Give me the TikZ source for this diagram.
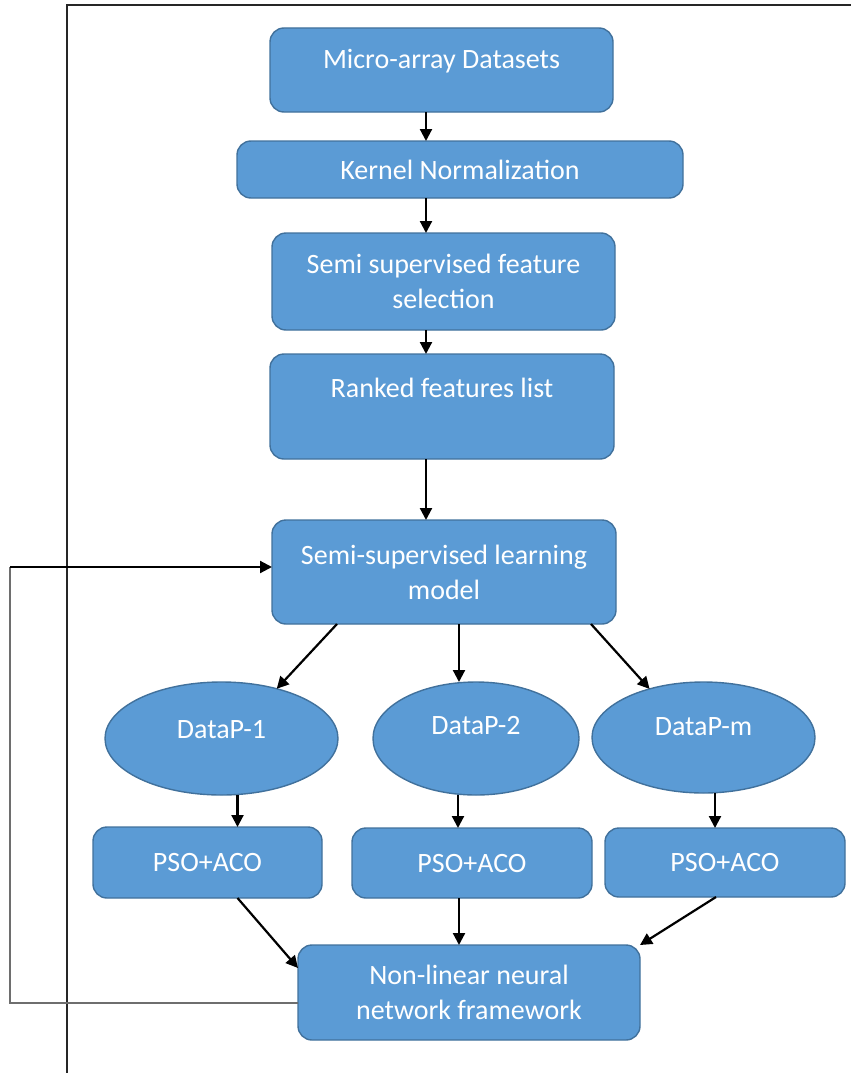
\documentclass[tikz,border=0pt]{standalone}
\usepackage{fontspec}
\setmainfont{Carlito}
\usetikzlibrary{positioning,shapes.geometric,arrows.meta}
\definecolor{BoxFill}{HTML}{5B9BD5}
\definecolor{BoxEdge}{HTML}{41719C}
\definecolor{LoopGrey}{HTML}{6E6E6E}
\tikzset{
  flow box/.style={draw=BoxEdge,line width=1.4pt,fill=BoxFill,rounded corners=14pt,
    align=center,text=white,font=\fontsize{28}{35}\selectfont,inner sep=0pt,outer sep=0pt},
  flow oval/.style={ellipse,draw=BoxEdge,line width=1.4pt,fill=BoxFill,
    align=center,text=white,font=\fontsize{28}{35}\selectfont,inner sep=0pt,outer sep=0pt},
  lifted/.style={text depth=#1},
  flow arrow/.style={-{Triangle[length=12pt,width=12pt]},line width=2.2pt,draw=black},
  loop line/.style={line width=1.6pt,draw=LoopGrey},
  frame line/.style={line width=2.8pt,draw=black!85}
}
\begin{document}
\begin{tikzpicture}[x=1pt,y=-1pt]
  \useasboundingbox (0,0) rectangle (851,1073);
  \draw[frame line] (67,1073) -- (67,5) -- (851,5);
  % main column
  \node[flow box,minimum width=343pt,minimum height=84pt,lifted=22pt] (micro) at (441.5,70) {Micro-array Datasets};
  \node[flow box,minimum width=446pt,minimum height=57pt] (kernel) at (460,169.5) {Kernel Normalization};
  \node[flow box,minimum width=343pt,minimum height=97pt] (select) at (443.5,281.5) {Semi supervised feature\\selection};
  \node[flow box,minimum width=344pt,minimum height=105pt,lifted=38pt] (ranked) at (442,406.5) {Ranked features list};
  \node[flow box,minimum width=344pt,minimum height=104pt] (model) at (444,572) {Semi-supervised learning\\model};
  % partitions
  \node[flow oval,minimum width=233pt,minimum height=113pt,lifted=18pt] (dp1) at (221.5,738.5) {DataP-1};
  \node[flow oval,minimum width=206pt,minimum height=113pt,lifted=26pt] (dp2) at (476,738.5) {DataP-2};
  \node[flow oval,minimum width=223pt,minimum height=111pt,lifted=21pt] (dpm) at (703.5,737.5) {DataP-m};
  \node[flow box,minimum width=229pt,minimum height=71pt] (pso1) at (207.5,862.5) {PSO+ACO};
  \node[flow box,minimum width=240pt,minimum height=70pt] (pso2) at (472,863) {PSO+ACO};
  \node[flow box,minimum width=240pt,minimum height=69pt] (pso3) at (725,862.5) {PSO+ACO};
  \node[flow box,minimum width=342pt,minimum height=95pt] (nn) at (469,992.5) {Non-linear neural\\network framework};
  \coordinate (spine) at (426,0);
  \coordinate (fbtop) at (10,567);
  \draw[flow arrow] (micro.south -| spine) -- (kernel.north -| spine);
  \draw[flow arrow] (kernel.south -| spine) -- (select.north -| spine);
  \draw[flow arrow] (select.south -| spine) -- (ranked.north -| spine);
  \draw[flow arrow] (ranked.south -| spine) -- (model.north -| spine);
  \draw[flow arrow] ([xshift=-107pt]model.south) -- (dp1.42);
  \draw[flow arrow] ([xshift=15pt]model.south) -- ([xshift=15pt]model.south |- dp2.north);
  \draw[flow arrow] ([xshift=147pt]model.south) -- (dpm.138);
  \draw[flow arrow] ([xshift=16pt]dp1.south) -- ([xshift=16pt]dp1.south |- pso1.north);
  \draw[flow arrow] ([xshift=-18pt]dp2.south) -- ([xshift=-18pt]dp2.south |- pso2.north);
  \draw[flow arrow] ([xshift=11.5pt]dpm.south) -- ([xshift=11.5pt]dpm.south |- pso3.north);
  \draw[flow arrow] ([xshift=30pt]pso1.south) -- ([yshift=24.5pt]nn.west);
  \draw[flow arrow] ([xshift=-13pt]pso2.south) -- ([xshift=-13pt]pso2.south |- nn.north);
  \draw[flow arrow] ([xshift=-9pt]pso3.south) -- (nn.north east);
  % feedback loop
  \draw[loop line] ([yshift=-10.5pt]nn.west) -| (fbtop);
  \draw[flow arrow] (fbtop) -- (fbtop -| model.west);
\end{tikzpicture}
\end{document}
